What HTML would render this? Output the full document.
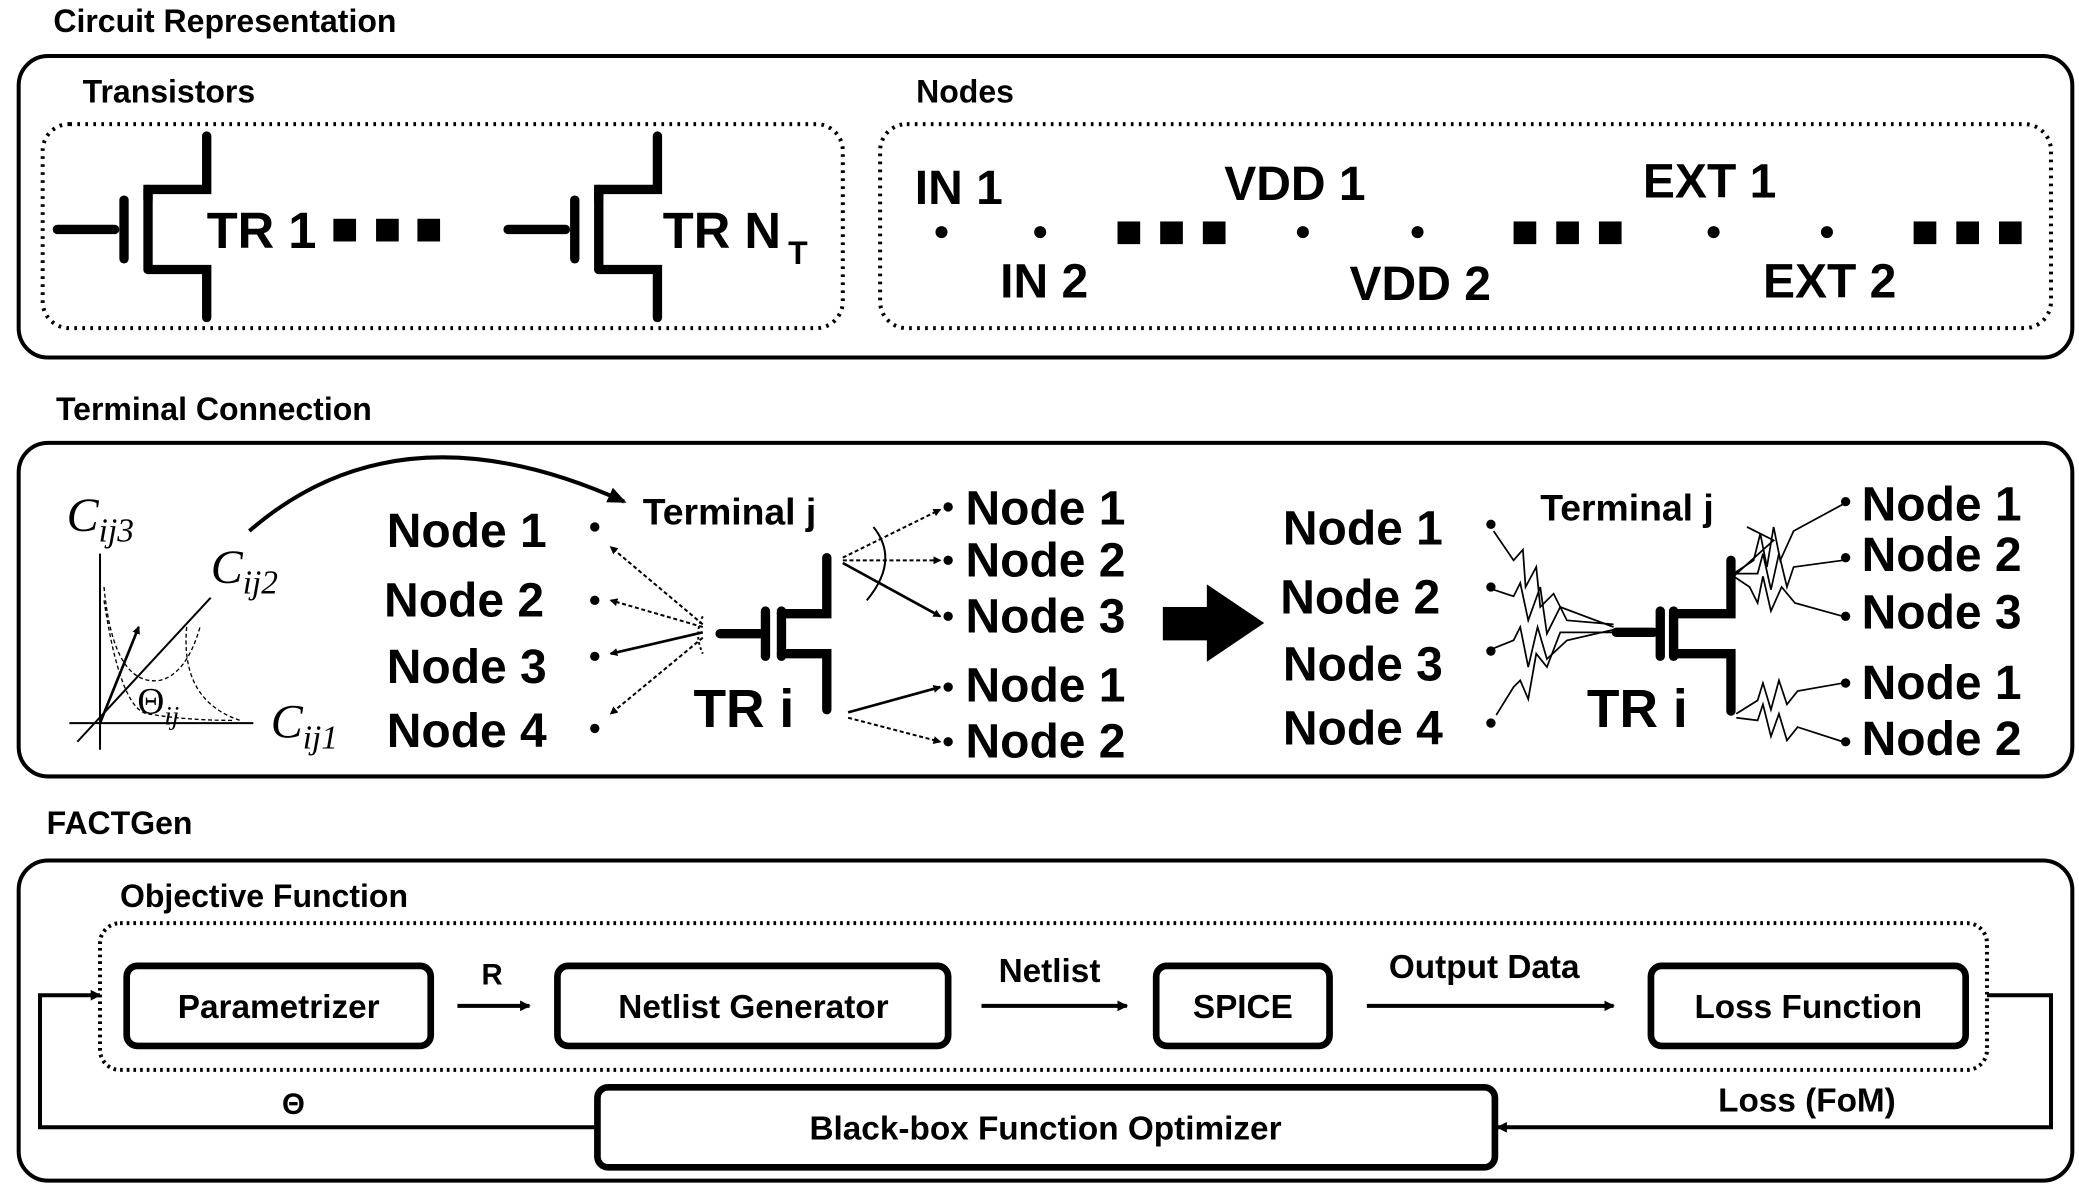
<!DOCTYPE html>
<html><head><meta charset="utf-8"><style>
html,body{margin:0;padding:0;background:#fff}
svg{display:block}
text{font-family:"Liberation Sans",sans-serif;font-weight:bold;fill:#000}
text.m{font-family:"Liberation Serif",serif;font-weight:normal;font-style:italic}
</style></head><body>
<svg width="2079" height="1186" viewBox="0 0 1559 889" preserveAspectRatio="none" xmlns="http://www.w3.org/2000/svg">
<defs>
<marker id="ah" markerWidth="8" markerHeight="8" refX="7" refY="4" orient="auto" markerUnits="userSpaceOnUse"><path d="M0,0 L8,4 L0,8 z" fill="#000"/></marker>
<marker id="ahb" markerWidth="14" markerHeight="12" refX="12" refY="6" orient="auto" markerUnits="userSpaceOnUse"><path d="M0,0 L14,6 L0,12 z" fill="#000"/></marker>
<marker id="as" markerWidth="6" markerHeight="6" refX="5" refY="3" orient="auto" markerUnits="userSpaceOnUse"><path d="M0,0 L6,3 L0,6 z" fill="#000"/></marker>
<g id="tr" fill="none" stroke="#000" stroke-width="7" stroke-linecap="round" stroke-linejoin="miter">
<line x1="0" y1="0" x2="43" y2="0"/>
<line x1="50" y1="-22" x2="50" y2="22"/>
<polyline points="68,-22 68,-30 112,-30 112,-70"/>
<line x1="68" y1="-30" x2="68" y2="30"/>
<polyline points="68,30 112,30 112,66"/>
</g>
</defs>

<!-- Section 1 -->
<text x="40" y="24" font-size="24">Circuit Representation</text>
<rect x="14" y="42" width="1540" height="226" rx="22" fill="none" stroke="#000" stroke-width="3"/>
<text x="62" y="77" font-size="24">Transistors</text>
<rect x="32" y="93" width="600" height="153" rx="20" fill="none" stroke="#000" stroke-width="3" stroke-dasharray="2 4"/>
<use href="#tr" x="43" y="172"/>
<text x="155" y="186" font-size="38">TR 1</text>
<rect x="250" y="164" width="17" height="17"/><rect x="282" y="164" width="17" height="17"/><rect x="313" y="164" width="17" height="17"/>
<use href="#tr" x="381" y="172"/>
<text x="497" y="186" font-size="38">TR N</text><text x="591" y="198" font-size="24">T</text>

<text x="687" y="77" font-size="24">Nodes</text>
<rect x="660" y="93" width="878" height="153" rx="20" fill="none" stroke="#000" stroke-width="3" stroke-dasharray="2 4"/>
<g fill="#000">
<circle cx="706" cy="174" r="4.5"/><circle cx="780" cy="174" r="4.5"/><circle cx="977" cy="174" r="4.5"/><circle cx="1063" cy="174" r="4.5"/><circle cx="1285" cy="174" r="4.5"/><circle cx="1370" cy="174" r="4.5"/>
<rect x="838" y="166" width="17" height="17"/><rect x="870" y="166" width="17" height="17"/><rect x="902" y="166" width="17" height="17"/>
<rect x="1135" y="166" width="17" height="17"/><rect x="1167" y="166" width="17" height="17"/><rect x="1199" y="166" width="17" height="17"/>
<rect x="1435" y="166" width="17" height="17"/><rect x="1467" y="166" width="17" height="17"/><rect x="1499" y="166" width="17" height="17"/>
</g>
<text x="686" y="153" font-size="36">IN 1</text>
<text x="750" y="223" font-size="36">IN 2</text>
<text x="918" y="150" font-size="36">VDD 1</text>
<text x="1012" y="225" font-size="36">VDD 2</text>
<text x="1232" y="148" font-size="36">EXT 1</text>
<text x="1322" y="223" font-size="36">EXT 2</text>

<!-- Section 2 -->
<text x="42" y="315" font-size="24">Terminal Connection</text>
<rect x="14" y="332" width="1540" height="250" rx="22" fill="none" stroke="#000" stroke-width="3"/>
<g stroke="#000" fill="none">
<line x1="75" y1="415" x2="75" y2="562" stroke-width="1.5"/>
<line x1="52" y1="542" x2="190" y2="542" stroke-width="1.5"/>
<line x1="58" y1="556" x2="158" y2="448" stroke-width="1.5"/>
<line x1="75" y1="542" x2="104" y2="470" stroke-width="2" marker-end="url(#as)"/>
<path d="M78,440 Q85,515 120,510 Q140,505 150,470" stroke-width="1" stroke-dasharray="3 2"/>
<path d="M78,450 Q90,530 110,535 Q140,540 175,540" stroke-width="1" stroke-dasharray="3 2"/>
<path d="M140,470 Q135,525 180,540" stroke-width="1" stroke-dasharray="3 2"/>
<path d="M187,398 Q300,300 468,376" stroke-width="3" marker-end="url(#ahb)"/>
</g>
<text class="m" x="50" y="398" font-size="36">C<tspan font-size="25" dy="8">ij3</tspan></text>
<text class="m" x="158" y="437" font-size="36">C<tspan font-size="25" dy="8">ij2</tspan></text>
<text class="m" x="203" y="553" font-size="36">C<tspan font-size="25" dy="8">ij1</tspan></text>
<text class="m" x="103" y="535" font-size="28" style="font-style:normal">Θ<tspan font-size="20" dy="8" style="font-style:italic">ij</tspan></text>

<g font-size="36">
<text x="290" y="410">Node 1</text><text x="288" y="462">Node 2</text><text x="290" y="512">Node 3</text><text x="290" y="560">Node 4</text>
</g>
<g fill="#000"><circle cx="446" cy="395" r="3.5"/><circle cx="446" cy="450" r="3.5"/><circle cx="446" cy="492" r="3.5"/><circle cx="446" cy="546" r="3.5"/></g>
<text x="482" y="393" font-size="28">Terminal j</text>
<g stroke="#000" stroke-width="1.5" fill="none">
<line x1="527" y1="468" x2="458" y2="410" stroke-dasharray="3 2" marker-end="url(#as)"/>
<line x1="527" y1="470" x2="458" y2="450" stroke-dasharray="3 2" marker-end="url(#as)"/>
<line x1="527" y1="474" x2="458" y2="490" stroke-width="2" marker-end="url(#as)"/>
<line x1="527" y1="478" x2="458" y2="535" stroke-dasharray="3 2" marker-end="url(#as)"/>
<path d="M527,462 Q520,475 527,490" stroke-dasharray="2 2"/>
<line x1="632" y1="418" x2="705" y2="382" stroke-dasharray="3 2" marker-end="url(#as)"/>
<line x1="632" y1="420" x2="705" y2="420" stroke-dasharray="3 2" marker-end="url(#as)"/>
<line x1="632" y1="422" x2="705" y2="462" stroke-width="2" marker-end="url(#as)"/>
<path d="M655,395 Q675,420 650,450"/>
<line x1="636" y1="534" x2="705" y2="515" stroke-width="2" marker-end="url(#as)"/>
<line x1="636" y1="538" x2="705" y2="556" stroke-dasharray="3 2" marker-end="url(#as)"/>
</g>
<g fill="none" stroke="#000" stroke-width="7" stroke-linecap="round">
<line x1="540" y1="475" x2="570" y2="475"/>
<line x1="574" y1="458" x2="574" y2="492"/>
<line x1="586" y1="458" x2="586" y2="492"/>
<polyline points="586,460 620,460 620,418"/>
<polyline points="586,490 620,490 620,532"/>
</g>
<text x="520" y="545" font-size="40">TR i</text>
<g font-size="36"><text x="724" y="393">Node 1</text><text x="724" y="432">Node 2</text><text x="724" y="474">Node 3</text><text x="724" y="526">Node 1</text><text x="724" y="568">Node 2</text></g>
<g fill="#000"><circle cx="711" cy="380" r="3.5"/><circle cx="711" cy="420" r="3.5"/><circle cx="711" cy="462" r="3.5"/><circle cx="711" cy="515" r="3.5"/><circle cx="711" cy="556" r="3.5"/></g>
<path d="M872,455 L905,455 L905,438 L948,467 L905,496 L905,480 L872,480 z" fill="#000"/>

<!-- right half -->
<g font-size="36"><text x="962" y="408">Node 1</text><text x="960" y="460">Node 2</text><text x="962" y="510">Node 3</text><text x="962" y="558">Node 4</text></g>
<g fill="#000"><circle cx="1118" cy="393" r="3.5"/><circle cx="1118" cy="440" r="3.5"/><circle cx="1118" cy="488" r="3.5"/><circle cx="1118" cy="542" r="3.5"/></g>
<text x="1155" y="390" font-size="28">Terminal j</text>
<g fill="none" stroke="#000" stroke-width="1.3">
<polyline points="1120,398 1135,420 1142,412 1144,440 1152,425 1155,455 1165,445 1175,465 1210,468"/>
<polyline points="1120,442 1135,447 1140,437 1146,465 1155,440 1160,475 1170,455 1210,470"/>
<polyline points="1120,486 1135,480 1140,470 1146,500 1153,470 1160,494 1175,480 1210,472"/>
<polyline points="1122,536 1135,515 1140,510 1146,524 1152,490 1160,500 1170,474 1210,474"/>
<polyline points="1300,430 1315,420 1320,400 1325,425 1330,395 1335,420 1345,398 1382,378"/>
<polyline points="1300,430 1318,430 1322,415 1328,442 1334,415 1340,440 1345,425 1382,420"/>
<polyline points="1300,432 1312,440 1318,452 1322,432 1328,458 1336,440 1346,452 1382,462"/>
<polyline points="1300,432 1330,405 1310,395"/>
<polyline points="1302,535 1318,525 1322,512 1328,532 1334,510 1340,528 1348,518 1382,512"/>
<polyline points="1302,538 1318,540 1322,528 1328,552 1334,535 1340,555 1348,545 1382,556"/>
</g>
<g fill="none" stroke="#000" stroke-width="7" stroke-linecap="round">
<line x1="1212" y1="474" x2="1240" y2="474"/>
<line x1="1245" y1="458" x2="1245" y2="492"/>
<line x1="1255" y1="458" x2="1255" y2="492"/>
<polyline points="1255,460 1298,460 1298,420"/>
<polyline points="1255,490 1298,490 1298,533"/>
</g>
<text x="1190" y="545" font-size="40">TR i</text>
<g font-size="36"><text x="1396" y="390">Node 1</text><text x="1396" y="428">Node 2</text><text x="1396" y="471">Node 3</text><text x="1396" y="524">Node 1</text><text x="1396" y="566">Node 2</text></g>
<g fill="#000"><circle cx="1384" cy="376" r="3.5"/><circle cx="1384" cy="418" r="3.5"/><circle cx="1384" cy="462" r="3.5"/><circle cx="1384" cy="512" r="3.5"/><circle cx="1384" cy="556" r="3.5"/></g>

<!-- Section 3 -->
<text x="35" y="625" font-size="24">FACTGen</text>
<rect x="14" y="645" width="1540" height="240" rx="22" fill="none" stroke="#000" stroke-width="3"/>
<text x="90" y="680" font-size="24">Objective Function</text>
<rect x="75" y="692" width="1415" height="110" rx="15" fill="none" stroke="#000" stroke-width="3" stroke-dasharray="2 3"/>
<g fill="none" stroke="#000" stroke-width="5">
<rect x="95" y="724" width="228" height="60" rx="8"/>
<rect x="418" y="724" width="293" height="60" rx="8"/>
<rect x="867" y="724" width="130" height="60" rx="8"/>
<rect x="1238" y="724" width="236" height="60" rx="8"/>
<rect x="448" y="815" width="673" height="60" rx="8"/>
</g>
<g font-size="25" text-anchor="middle">
<text x="209" y="763">Parametrizer</text>
<text x="565" y="763">Netlist Generator</text>
<text x="932" y="763">SPICE</text>
<text x="1356" y="763">Loss Function</text>
<text x="784" y="854">Black-box Function Optimizer</text>
<text x="787" y="736">Netlist</text>
<text x="1113" y="733">Output Data</text>
<text x="1355" y="833">Loss (FoM)</text>
</g>
<text x="369" y="738" font-size="22" text-anchor="middle">R</text>
<text x="220" y="835" font-size="22" text-anchor="middle">Θ</text>
<g stroke="#000" stroke-width="3" fill="none">
<line x1="343" y1="754" x2="397" y2="754" marker-end="url(#ah)"/>
<line x1="736" y1="754" x2="845" y2="754" marker-end="url(#ah)"/>
<line x1="1025" y1="754" x2="1210" y2="754" marker-end="url(#ah)"/>
<polyline points="1490,746 1538,746 1538,845 1123,845" marker-end="url(#ah)"/>
<polyline points="448,845 30,845 30,746 75,746" marker-end="url(#ah)"/>
</g>
</svg>
</body></html>
